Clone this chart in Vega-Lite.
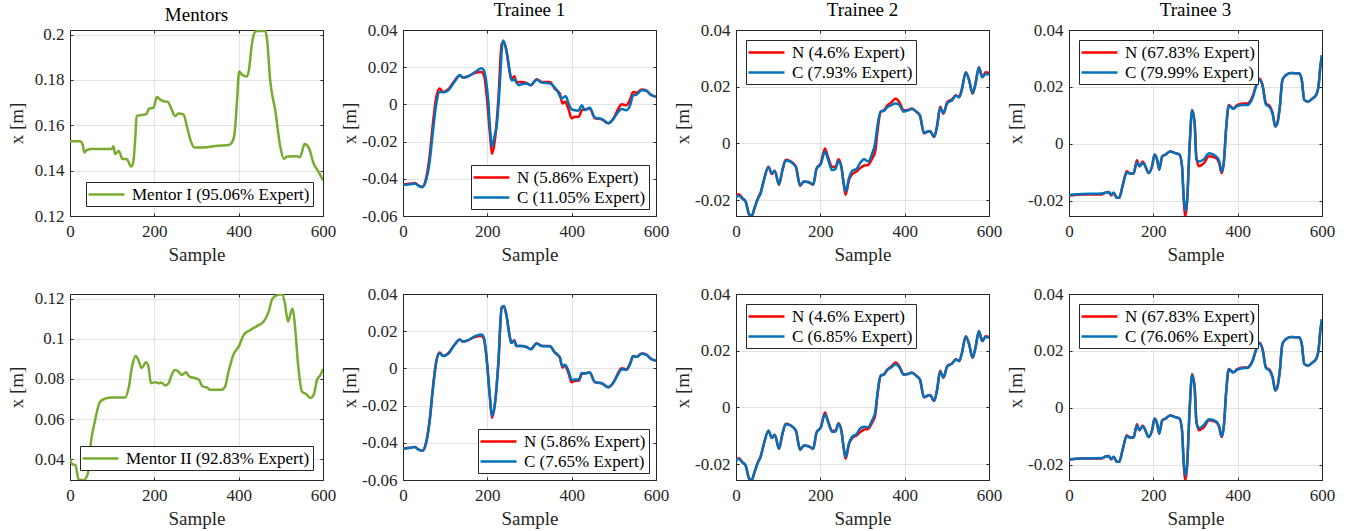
{
  "$schema": "https://vega.github.io/schema/vega-lite/v6.json",
  "padding": {"left": 6, "top": 0, "right": 5, "bottom": 5},
  "background": "white",
  "datasets": {
    "d": [
      {"p":"M1","s":"M1","t":0,"v":0.153},{"p":"M1","s":"M1","t":24,"v":0.153},{"p":"M1","s":"M1","t":30,"v":0.1515},{"p":"M1","s":"M1","t":34,"v":0.148},{"p":"M1","s":"M1","t":40,"v":0.149},{"p":"M1","s":"M1","t":50,"v":0.1495},{"p":"M1","s":"M1","t":99,"v":0.1495},{"p":"M1","s":"M1","t":103,"v":0.1507},{"p":"M1","s":"M1","t":107,"v":0.1473},{"p":"M1","s":"M1","t":116,"v":0.1487},{"p":"M1","s":"M1","t":124,"v":0.1452},{"p":"M1","s":"M1","t":135,"v":0.145},{"p":"M1","s":"M1","t":145,"v":0.1418},{"p":"M1","s":"M1","t":150,"v":0.1437},{"p":"M1","s":"M1","t":155,"v":0.155},{"p":"M1","s":"M1","t":158,"v":0.164},{"p":"M1","s":"M1","t":170,"v":0.1645},{"p":"M1","s":"M1","t":180,"v":0.1648},{"p":"M1","s":"M1","t":188,"v":0.1674},{"p":"M1","s":"M1","t":198,"v":0.1677},{"p":"M1","s":"M1","t":206,"v":0.1725},{"p":"M1","s":"M1","t":214,"v":0.1713},{"p":"M1","s":"M1","t":222,"v":0.1706},{"p":"M1","s":"M1","t":232,"v":0.1703},{"p":"M1","s":"M1","t":241,"v":0.167},{"p":"M1","s":"M1","t":249,"v":0.164},{"p":"M1","s":"M1","t":257,"v":0.1652},{"p":"M1","s":"M1","t":269,"v":0.1648},{"p":"M1","s":"M1","t":277,"v":0.1597},{"p":"M1","s":"M1","t":285,"v":0.1539},{"p":"M1","s":"M1","t":295,"v":0.1502},{"p":"M1","s":"M1","t":313,"v":0.1502},{"p":"M1","s":"M1","t":352,"v":0.151},{"p":"M1","s":"M1","t":376,"v":0.1513},{"p":"M1","s":"M1","t":384,"v":0.1524},{"p":"M1","s":"M1","t":390,"v":0.156},{"p":"M1","s":"M1","t":396,"v":0.1706},{"p":"M1","s":"M1","t":401,"v":0.1837},{"p":"M1","s":"M1","t":408,"v":0.1823},{"p":"M1","s":"M1","t":420,"v":0.1815},{"p":"M1","s":"M1","t":425,"v":0.1852},{"p":"M1","s":"M1","t":431,"v":0.1953},{"p":"M1","s":"M1","t":439,"v":0.2012},{"p":"M1","s":"M1","t":445,"v":0.2016},{"p":"M1","s":"M1","t":463,"v":0.2016},{"p":"M1","s":"M1","t":467,"v":0.1983},{"p":"M1","s":"M1","t":475,"v":0.1793},{"p":"M1","s":"M1","t":487,"v":0.1663},{"p":"M1","s":"M1","t":499,"v":0.1502},{"p":"M1","s":"M1","t":507,"v":0.1452},{"p":"M1","s":"M1","t":515,"v":0.1462},{"p":"M1","s":"M1","t":538,"v":0.1463},{"p":"M1","s":"M1","t":545,"v":0.1459},{"p":"M1","s":"M1","t":550,"v":0.1481},{"p":"M1","s":"M1","t":556,"v":0.1517},{"p":"M1","s":"M1","t":566,"v":0.1502},{"p":"M1","s":"M1","t":578,"v":0.143},{"p":"M1","s":"M1","t":590,"v":0.1393},{"p":"M1","s":"M1","t":600,"v":0.1357},

      {"p":"M2","s":"M2","t":0,"v":0.04},{"p":"M2","s":"M2","t":6,"v":0.0375},{"p":"M2","s":"M2","t":13,"v":0.0372},{"p":"M2","s":"M2","t":20,"v":0.0301},{"p":"M2","s":"M2","t":32,"v":0.0296},{"p":"M2","s":"M2","t":42,"v":0.0326},{"p":"M2","s":"M2","t":50,"v":0.0491},{"p":"M2","s":"M2","t":59,"v":0.059},{"p":"M2","s":"M2","t":71,"v":0.0685},{"p":"M2","s":"M2","t":83,"v":0.0702},{"p":"M2","s":"M2","t":99,"v":0.0708},{"p":"M2","s":"M2","t":131,"v":0.0708},{"p":"M2","s":"M2","t":139,"v":0.0755},{"p":"M2","s":"M2","t":148,"v":0.087},{"p":"M2","s":"M2","t":156,"v":0.0916},{"p":"M2","s":"M2","t":162,"v":0.0895},{"p":"M2","s":"M2","t":170,"v":0.0854},{"p":"M2","s":"M2","t":180,"v":0.0883},{"p":"M2","s":"M2","t":186,"v":0.0862},{"p":"M2","s":"M2","t":192,"v":0.0779},{"p":"M2","s":"M2","t":202,"v":0.0784},{"p":"M2","s":"M2","t":210,"v":0.0779},{"p":"M2","s":"M2","t":216,"v":0.0783},{"p":"M2","s":"M2","t":226,"v":0.0768},{"p":"M2","s":"M2","t":234,"v":0.0779},{"p":"M2","s":"M2","t":241,"v":0.082},{"p":"M2","s":"M2","t":249,"v":0.0845},{"p":"M2","s":"M2","t":257,"v":0.0837},{"p":"M2","s":"M2","t":265,"v":0.082},{"p":"M2","s":"M2","t":275,"v":0.0834},{"p":"M2","s":"M2","t":283,"v":0.0812},{"p":"M2","s":"M2","t":297,"v":0.0804},{"p":"M2","s":"M2","t":306,"v":0.0796},{"p":"M2","s":"M2","t":314,"v":0.0763},{"p":"M2","s":"M2","t":325,"v":0.0758},{"p":"M2","s":"M2","t":332,"v":0.0746},{"p":"M2","s":"M2","t":360,"v":0.0746},{"p":"M2","s":"M2","t":368,"v":0.0763},{"p":"M2","s":"M2","t":376,"v":0.0837},{"p":"M2","s":"M2","t":388,"v":0.0923},{"p":"M2","s":"M2","t":400,"v":0.0961},{"p":"M2","s":"M2","t":412,"v":0.1019},{"p":"M2","s":"M2","t":427,"v":0.1043},{"p":"M2","s":"M2","t":447,"v":0.1068},{"p":"M2","s":"M2","t":459,"v":0.1085},{"p":"M2","s":"M2","t":471,"v":0.1134},{"p":"M2","s":"M2","t":480,"v":0.12},{"p":"M2","s":"M2","t":491,"v":0.1217},{"p":"M2","s":"M2","t":503,"v":0.1222},{"p":"M2","s":"M2","t":509,"v":0.1184},{"p":"M2","s":"M2","t":517,"v":0.1085},{"p":"M2","s":"M2","t":522,"v":0.1118},{"p":"M2","s":"M2","t":528,"v":0.1151},{"p":"M2","s":"M2","t":533,"v":0.1076},{"p":"M2","s":"M2","t":541,"v":0.087},{"p":"M2","s":"M2","t":550,"v":0.0738},{"p":"M2","s":"M2","t":560,"v":0.0725},{"p":"M2","s":"M2","t":570,"v":0.0705},{"p":"M2","s":"M2","t":578,"v":0.0722},{"p":"M2","s":"M2","t":586,"v":0.0796},{"p":"M2","s":"M2","t":594,"v":0.082},{"p":"M2","s":"M2","t":600,"v":0.085},

      {"p":"T1","s":"N","t":0,"v":-0.0431},{"p":"T1","s":"N","t":16,"v":-0.0427},{"p":"T1","s":"N","t":28,"v":-0.0422},{"p":"T1","s":"N","t":37,"v":-0.0436},{"p":"T1","s":"N","t":46,"v":-0.0443},{"p":"T1","s":"N","t":55,"v":-0.0395},{"p":"T1","s":"N","t":63,"v":-0.028},{"p":"T1","s":"N","t":71,"v":-0.0102},{"p":"T1","s":"N","t":79,"v":0.0041},{"p":"T1","s":"N","t":87,"v":0.0085},{"p":"T1","s":"N","t":95,"v":0.0067},{"p":"T1","s":"N","t":107,"v":0.008},{"p":"T1","s":"N","t":123,"v":0.013},{"p":"T1","s":"N","t":135,"v":0.0156},{"p":"T1","s":"N","t":142,"v":0.0144},{"p":"T1","s":"N","t":154,"v":0.0151},{"p":"T1","s":"N","t":170,"v":0.0169},{"p":"T1","s":"N","t":186,"v":0.0174},{"p":"T1","s":"N","t":192,"v":0.0156},{"p":"T1","s":"N","t":198,"v":0.0058},{"p":"T1","s":"N","t":206,"v":-0.0155},{"p":"T1","s":"N","t":211,"v":-0.0266},{"p":"T1","s":"N","t":218,"v":-0.0191},{"p":"T1","s":"N","t":226,"v":0.0023},{"p":"T1","s":"N","t":234,"v":0.0325},{"p":"T1","s":"N","t":239,"v":0.0334},{"p":"T1","s":"N","t":245,"v":0.029},{"p":"T1","s":"N","t":253,"v":0.0174},{"p":"T1","s":"N","t":257,"v":0.0138},{"p":"T1","s":"N","t":264,"v":0.0151},{"p":"T1","s":"N","t":269,"v":0.0121},{"p":"T1","s":"N","t":281,"v":0.0121},{"p":"T1","s":"N","t":293,"v":0.0115},{"p":"T1","s":"N","t":303,"v":0.0103},{"p":"T1","s":"N","t":317,"v":0.0135},{"p":"T1","s":"N","t":329,"v":0.0121},{"p":"T1","s":"N","t":348,"v":0.0121},{"p":"T1","s":"N","t":360,"v":0.0085},{"p":"T1","s":"N","t":372,"v":0.0058},{"p":"T1","s":"N","t":378,"v":0.0005},{"p":"T1","s":"N","t":384,"v":0.0014},{"p":"T1","s":"N","t":392,"v":-0.0022},{"p":"T1","s":"N","t":400,"v":-0.0075},{"p":"T1","s":"N","t":408,"v":-0.0066},{"p":"T1","s":"N","t":417,"v":-0.0066},{"p":"T1","s":"N","t":424,"v":-0.0031},{"p":"T1","s":"N","t":431,"v":-0.0027},{"p":"T1","s":"N","t":443,"v":-0.0022},{"p":"T1","s":"N","t":455,"v":-0.0075},{"p":"T1","s":"N","t":471,"v":-0.008},{"p":"T1","s":"N","t":487,"v":-0.0102},{"p":"T1","s":"N","t":499,"v":-0.0075},{"p":"T1","s":"N","t":511,"v":-0.0022},{"p":"T1","s":"N","t":518,"v":0.0001},{"p":"T1","s":"N","t":530,"v":-0.0004},{"p":"T1","s":"N","t":538,"v":0.0023},{"p":"T1","s":"N","t":546,"v":0.0067},{"p":"T1","s":"N","t":554,"v":0.0062},{"p":"T1","s":"N","t":566,"v":0.008},{"p":"T1","s":"N","t":578,"v":0.0073},{"p":"T1","s":"N","t":586,"v":0.0055},{"p":"T1","s":"N","t":600,"v":0.0041},

      {"p":"T1","s":"C1","t":0,"v":-0.0433},{"p":"T1","s":"C1","t":16,"v":-0.043},{"p":"T1","s":"C1","t":28,"v":-0.0425},{"p":"T1","s":"C1","t":37,"v":-0.0438},{"p":"T1","s":"C1","t":46,"v":-0.0445},{"p":"T1","s":"C1","t":55,"v":-0.0405},{"p":"T1","s":"C1","t":63,"v":-0.031},{"p":"T1","s":"C1","t":71,"v":-0.0145},{"p":"T1","s":"C1","t":79,"v":0.0005},{"p":"T1","s":"C1","t":87,"v":0.0067},{"p":"T1","s":"C1","t":95,"v":0.0065},{"p":"T1","s":"C1","t":107,"v":0.0075},{"p":"T1","s":"C1","t":123,"v":0.0125},{"p":"T1","s":"C1","t":135,"v":0.0158},{"p":"T1","s":"C1","t":142,"v":0.0145},{"p":"T1","s":"C1","t":154,"v":0.015},{"p":"T1","s":"C1","t":170,"v":0.0172},{"p":"T1","s":"C1","t":186,"v":0.0195},{"p":"T1","s":"C1","t":192,"v":0.0183},{"p":"T1","s":"C1","t":198,"v":0.011},{"p":"T1","s":"C1","t":202,"v":0.0023},{"p":"T1","s":"C1","t":206,"v":-0.0115},{"p":"T1","s":"C1","t":211,"v":-0.0226},{"p":"T1","s":"C1","t":218,"v":-0.016},{"p":"T1","s":"C1","t":222,"v":-0.012},{"p":"T1","s":"C1","t":228,"v":0.005},{"p":"T1","s":"C1","t":237,"v":0.0343},{"p":"T1","s":"C1","t":245,"v":0.0295},{"p":"T1","s":"C1","t":253,"v":0.018},{"p":"T1","s":"C1","t":257,"v":0.013},{"p":"T1","s":"C1","t":265,"v":0.0133},{"p":"T1","s":"C1","t":269,"v":0.0118},{"p":"T1","s":"C1","t":275,"v":0.0103},{"p":"T1","s":"C1","t":281,"v":0.0108},{"p":"T1","s":"C1","t":293,"v":0.0112},{"p":"T1","s":"C1","t":303,"v":0.0103},{"p":"T1","s":"C1","t":317,"v":0.0132},{"p":"T1","s":"C1","t":329,"v":0.0118},{"p":"T1","s":"C1","t":348,"v":0.0113},{"p":"T1","s":"C1","t":360,"v":0.009},{"p":"T1","s":"C1","t":368,"v":0.0065},{"p":"T1","s":"C1","t":376,"v":0.0032},{"p":"T1","s":"C1","t":386,"v":0.0044},{"p":"T1","s":"C1","t":392,"v":0.0009},{"p":"T1","s":"C1","t":400,"v":-0.0027},{"p":"T1","s":"C1","t":408,"v":-0.0032},{"p":"T1","s":"C1","t":416,"v":-0.0034},{"p":"T1","s":"C1","t":424,"v":-0.0004},{"p":"T1","s":"C1","t":431,"v":-0.0031},{"p":"T1","s":"C1","t":443,"v":-0.0018},{"p":"T1","s":"C1","t":455,"v":-0.0071},{"p":"T1","s":"C1","t":471,"v":-0.0078},{"p":"T1","s":"C1","t":487,"v":-0.0102},{"p":"T1","s":"C1","t":499,"v":-0.0078},{"p":"T1","s":"C1","t":511,"v":-0.0039},{"p":"T1","s":"C1","t":518,"v":-0.0025},{"p":"T1","s":"C1","t":530,"v":-0.0031},{"p":"T1","s":"C1","t":538,"v":-0.0009},{"p":"T1","s":"C1","t":546,"v":0.0049},{"p":"T1","s":"C1","t":554,"v":0.0053},{"p":"T1","s":"C1","t":566,"v":0.0076},{"p":"T1","s":"C1","t":578,"v":0.0073},{"p":"T1","s":"C1","t":586,"v":0.0055},{"p":"T1","s":"C1","t":600,"v":0.0041},

      {"p":"T1","s":"C2","t":0,"v":-0.0432},{"p":"T1","s":"C2","t":16,"v":-0.0428},{"p":"T1","s":"C2","t":28,"v":-0.0423},{"p":"T1","s":"C2","t":37,"v":-0.0437},{"p":"T1","s":"C2","t":46,"v":-0.0443},{"p":"T1","s":"C2","t":55,"v":-0.04},{"p":"T1","s":"C2","t":63,"v":-0.029},{"p":"T1","s":"C2","t":71,"v":-0.011},{"p":"T1","s":"C2","t":79,"v":0.0035},{"p":"T1","s":"C2","t":87,"v":0.0082},{"p":"T1","s":"C2","t":95,"v":0.0067},{"p":"T1","s":"C2","t":107,"v":0.0079},{"p":"T1","s":"C2","t":123,"v":0.0129},{"p":"T1","s":"C2","t":135,"v":0.0156},{"p":"T1","s":"C2","t":142,"v":0.0144},{"p":"T1","s":"C2","t":154,"v":0.0151},{"p":"T1","s":"C2","t":170,"v":0.0172},{"p":"T1","s":"C2","t":186,"v":0.0182},{"p":"T1","s":"C2","t":192,"v":0.0165},{"p":"T1","s":"C2","t":198,"v":0.0065},{"p":"T1","s":"C2","t":206,"v":-0.015},{"p":"T1","s":"C2","t":211,"v":-0.0255},{"p":"T1","s":"C2","t":218,"v":-0.019},{"p":"T1","s":"C2","t":226,"v":0.0025},{"p":"T1","s":"C2","t":234,"v":0.0328},{"p":"T1","s":"C2","t":239,"v":0.0335},{"p":"T1","s":"C2","t":245,"v":0.029},{"p":"T1","s":"C2","t":253,"v":0.0172},{"p":"T1","s":"C2","t":257,"v":0.0137},{"p":"T1","s":"C2","t":264,"v":0.0149},{"p":"T1","s":"C2","t":269,"v":0.012},{"p":"T1","s":"C2","t":281,"v":0.012},{"p":"T1","s":"C2","t":293,"v":0.0115},{"p":"T1","s":"C2","t":303,"v":0.0103},{"p":"T1","s":"C2","t":317,"v":0.0134},{"p":"T1","s":"C2","t":329,"v":0.012},{"p":"T1","s":"C2","t":348,"v":0.0119},{"p":"T1","s":"C2","t":360,"v":0.0086},{"p":"T1","s":"C2","t":372,"v":0.006},{"p":"T1","s":"C2","t":378,"v":0.0012},{"p":"T1","s":"C2","t":384,"v":0.002},{"p":"T1","s":"C2","t":392,"v":-0.001},{"p":"T1","s":"C2","t":400,"v":-0.0062},{"p":"T1","s":"C2","t":408,"v":-0.006},{"p":"T1","s":"C2","t":417,"v":-0.006},{"p":"T1","s":"C2","t":424,"v":-0.0025},{"p":"T1","s":"C2","t":431,"v":-0.0027},{"p":"T1","s":"C2","t":443,"v":-0.0022},{"p":"T1","s":"C2","t":455,"v":-0.0074},{"p":"T1","s":"C2","t":471,"v":-0.008},{"p":"T1","s":"C2","t":487,"v":-0.0101},{"p":"T1","s":"C2","t":499,"v":-0.0076},{"p":"T1","s":"C2","t":511,"v":-0.0028},{"p":"T1","s":"C2","t":518,"v":-0.0005},{"p":"T1","s":"C2","t":530,"v":-0.0008},{"p":"T1","s":"C2","t":538,"v":0.002},{"p":"T1","s":"C2","t":546,"v":0.0065},{"p":"T1","s":"C2","t":554,"v":0.0061},{"p":"T1","s":"C2","t":566,"v":0.0079},{"p":"T1","s":"C2","t":578,"v":0.0073},{"p":"T1","s":"C2","t":586,"v":0.0055},{"p":"T1","s":"C2","t":600,"v":0.0041},

      {"p":"T2","s":"N","t":0,"v":-0.0185},{"p":"T2","s":"N","t":7,"v":-0.0179},{"p":"T2","s":"N","t":15,"v":-0.0193},{"p":"T2","s":"N","t":23,"v":-0.0205},{"p":"T2","s":"N","t":31,"v":-0.0251},{"p":"T2","s":"N","t":37,"v":-0.0257},{"p":"T2","s":"N","t":44,"v":-0.0228},{"p":"T2","s":"N","t":52,"v":-0.0193},{"p":"T2","s":"N","t":58,"v":-0.0175},{"p":"T2","s":"N","t":66,"v":-0.0129},{"p":"T2","s":"N","t":77,"v":-0.0082},{"p":"T2","s":"N","t":85,"v":-0.0108},{"p":"T2","s":"N","t":92,"v":-0.0096},{"p":"T2","s":"N","t":102,"v":-0.0146},{"p":"T2","s":"N","t":110,"v":-0.0094},{"p":"T2","s":"N","t":118,"v":-0.0058},{"p":"T2","s":"N","t":130,"v":-0.0064},{"p":"T2","s":"N","t":142,"v":-0.0082},{"p":"T2","s":"N","t":152,"v":-0.015},{"p":"T2","s":"N","t":161,"v":-0.0134},{"p":"T2","s":"N","t":173,"v":-0.0138},{"p":"T2","s":"N","t":183,"v":-0.0146},{"p":"T2","s":"N","t":191,"v":-0.0088},{"p":"T2","s":"N","t":201,"v":-0.007},{"p":"T2","s":"N","t":211,"v":-0.0018},{"p":"T2","s":"N","t":218,"v":-0.0047},{"p":"T2","s":"N","t":228,"v":-0.0082},{"p":"T2","s":"N","t":236,"v":-0.0082},{"p":"T2","s":"N","t":243,"v":-0.0056},{"p":"T2","s":"N","t":250,"v":-0.0082},{"p":"T2","s":"N","t":255,"v":-0.014},{"p":"T2","s":"N","t":260,"v":-0.0181},{"p":"T2","s":"N","t":268,"v":-0.0129},{"p":"T2","s":"N","t":276,"v":-0.0108},{"p":"T2","s":"N","t":286,"v":-0.0099},{"p":"T2","s":"N","t":294,"v":-0.0088},{"p":"T2","s":"N","t":304,"v":-0.0078},{"p":"T2","s":"N","t":313,"v":-0.0076},{"p":"T2","s":"N","t":323,"v":-0.0053},{"p":"T2","s":"N","t":330,"v":-0.0029},{"p":"T2","s":"N","t":335,"v":0.0035},{"p":"T2","s":"N","t":343,"v":0.0111},{"p":"T2","s":"N","t":351,"v":0.0117},{"p":"T2","s":"N","t":359,"v":0.0134},{"p":"T2","s":"N","t":367,"v":0.0143},{"p":"T2","s":"N","t":379,"v":0.0158},{"p":"T2","s":"N","t":387,"v":0.0146},{"p":"T2","s":"N","t":398,"v":0.0117},{"p":"T2","s":"N","t":410,"v":0.0119},{"p":"T2","s":"N","t":417,"v":0.0123},{"p":"T2","s":"N","t":428,"v":0.0111},{"p":"T2","s":"N","t":436,"v":0.0099},{"p":"T2","s":"N","t":446,"v":0.0035},{"p":"T2","s":"N","t":454,"v":0.0041},{"p":"T2","s":"N","t":460,"v":0.0044},{"p":"T2","s":"N","t":470,"v":0.0023},{"p":"T2","s":"N","t":477,"v":0.0064},{"p":"T2","s":"N","t":484,"v":0.0129},{"p":"T2","s":"N","t":492,"v":0.0105},{"p":"T2","s":"N","t":501,"v":0.0146},{"p":"T2","s":"N","t":513,"v":0.0156},{"p":"T2","s":"N","t":521,"v":0.017},{"p":"T2","s":"N","t":529,"v":0.0164},{"p":"T2","s":"N","t":535,"v":0.0187},{"p":"T2","s":"N","t":545,"v":0.0251},{"p":"T2","s":"N","t":553,"v":0.0222},{"p":"T2","s":"N","t":561,"v":0.0175},{"p":"T2","s":"N","t":568,"v":0.0211},{"p":"T2","s":"N","t":576,"v":0.0269},{"p":"T2","s":"N","t":584,"v":0.0234},{"p":"T2","s":"N","t":592,"v":0.0251},{"p":"T2","s":"N","t":600,"v":0.0248},

      {"p":"T2","s":"C1","t":0,"v":-0.019},{"p":"T2","s":"C1","t":7,"v":-0.0185},{"p":"T2","s":"C1","t":15,"v":-0.0195},{"p":"T2","s":"C1","t":23,"v":-0.0207},{"p":"T2","s":"C1","t":31,"v":-0.0249},{"p":"T2","s":"C1","t":37,"v":-0.0255},{"p":"T2","s":"C1","t":44,"v":-0.0228},{"p":"T2","s":"C1","t":52,"v":-0.0195},{"p":"T2","s":"C1","t":58,"v":-0.0178},{"p":"T2","s":"C1","t":66,"v":-0.0131},{"p":"T2","s":"C1","t":77,"v":-0.0083},{"p":"T2","s":"C1","t":85,"v":-0.0105},{"p":"T2","s":"C1","t":92,"v":-0.0098},{"p":"T2","s":"C1","t":102,"v":-0.0145},{"p":"T2","s":"C1","t":110,"v":-0.0095},{"p":"T2","s":"C1","t":118,"v":-0.006},{"p":"T2","s":"C1","t":130,"v":-0.0065},{"p":"T2","s":"C1","t":142,"v":-0.0083},{"p":"T2","s":"C1","t":152,"v":-0.0148},{"p":"T2","s":"C1","t":161,"v":-0.0134},{"p":"T2","s":"C1","t":173,"v":-0.0136},{"p":"T2","s":"C1","t":183,"v":-0.0145},{"p":"T2","s":"C1","t":191,"v":-0.009},{"p":"T2","s":"C1","t":201,"v":-0.0073},{"p":"T2","s":"C1","t":211,"v":-0.0029},{"p":"T2","s":"C1","t":218,"v":-0.0055},{"p":"T2","s":"C1","t":228,"v":-0.0094},{"p":"T2","s":"C1","t":236,"v":-0.009},{"p":"T2","s":"C1","t":243,"v":-0.0062},{"p":"T2","s":"C1","t":250,"v":-0.0085},{"p":"T2","s":"C1","t":255,"v":-0.0135},{"p":"T2","s":"C1","t":260,"v":-0.017},{"p":"T2","s":"C1","t":268,"v":-0.0122},{"p":"T2","s":"C1","t":276,"v":-0.0096},{"p":"T2","s":"C1","t":286,"v":-0.009},{"p":"T2","s":"C1","t":294,"v":-0.007},{"p":"T2","s":"C1","t":304,"v":-0.0056},{"p":"T2","s":"C1","t":313,"v":-0.0064},{"p":"T2","s":"C1","t":323,"v":-0.0035},{"p":"T2","s":"C1","t":330,"v":0.0},{"p":"T2","s":"C1","t":335,"v":0.0058},{"p":"T2","s":"C1","t":343,"v":0.0113},{"p":"T2","s":"C1","t":351,"v":0.0115},{"p":"T2","s":"C1","t":359,"v":0.0128},{"p":"T2","s":"C1","t":367,"v":0.0134},{"p":"T2","s":"C1","t":379,"v":0.0141},{"p":"T2","s":"C1","t":387,"v":0.0136},{"p":"T2","s":"C1","t":398,"v":0.0112},{"p":"T2","s":"C1","t":410,"v":0.0118},{"p":"T2","s":"C1","t":417,"v":0.0121},{"p":"T2","s":"C1","t":428,"v":0.0112},{"p":"T2","s":"C1","t":436,"v":0.0099},{"p":"T2","s":"C1","t":446,"v":0.0037},{"p":"T2","s":"C1","t":454,"v":0.0042},{"p":"T2","s":"C1","t":460,"v":0.0043},{"p":"T2","s":"C1","t":470,"v":0.0023},{"p":"T2","s":"C1","t":477,"v":0.006},{"p":"T2","s":"C1","t":484,"v":0.0125},{"p":"T2","s":"C1","t":492,"v":0.0107},{"p":"T2","s":"C1","t":501,"v":0.0142},{"p":"T2","s":"C1","t":513,"v":0.0153},{"p":"T2","s":"C1","t":521,"v":0.0168},{"p":"T2","s":"C1","t":529,"v":0.0163},{"p":"T2","s":"C1","t":535,"v":0.0186},{"p":"T2","s":"C1","t":545,"v":0.025},{"p":"T2","s":"C1","t":553,"v":0.0222},{"p":"T2","s":"C1","t":561,"v":0.0178},{"p":"T2","s":"C1","t":568,"v":0.0211},{"p":"T2","s":"C1","t":576,"v":0.0268},{"p":"T2","s":"C1","t":584,"v":0.0233},{"p":"T2","s":"C1","t":592,"v":0.0245},{"p":"T2","s":"C1","t":600,"v":0.0243},

      {"p":"T2","s":"C2","t":0,"v":-0.0187},{"p":"T2","s":"C2","t":7,"v":-0.0182},{"p":"T2","s":"C2","t":15,"v":-0.0194},{"p":"T2","s":"C2","t":23,"v":-0.0206},{"p":"T2","s":"C2","t":31,"v":-0.025},{"p":"T2","s":"C2","t":37,"v":-0.0256},{"p":"T2","s":"C2","t":44,"v":-0.0228},{"p":"T2","s":"C2","t":52,"v":-0.0194},{"p":"T2","s":"C2","t":58,"v":-0.0176},{"p":"T2","s":"C2","t":66,"v":-0.013},{"p":"T2","s":"C2","t":77,"v":-0.0082},{"p":"T2","s":"C2","t":85,"v":-0.0107},{"p":"T2","s":"C2","t":92,"v":-0.0097},{"p":"T2","s":"C2","t":102,"v":-0.0146},{"p":"T2","s":"C2","t":110,"v":-0.0094},{"p":"T2","s":"C2","t":118,"v":-0.0059},{"p":"T2","s":"C2","t":130,"v":-0.0064},{"p":"T2","s":"C2","t":142,"v":-0.0082},{"p":"T2","s":"C2","t":152,"v":-0.0149},{"p":"T2","s":"C2","t":161,"v":-0.0134},{"p":"T2","s":"C2","t":173,"v":-0.0137},{"p":"T2","s":"C2","t":183,"v":-0.0146},{"p":"T2","s":"C2","t":191,"v":-0.0089},{"p":"T2","s":"C2","t":201,"v":-0.0071},{"p":"T2","s":"C2","t":211,"v":-0.0025},{"p":"T2","s":"C2","t":218,"v":-0.005},{"p":"T2","s":"C2","t":228,"v":-0.0086},{"p":"T2","s":"C2","t":236,"v":-0.0085},{"p":"T2","s":"C2","t":243,"v":-0.0058},{"p":"T2","s":"C2","t":250,"v":-0.0083},{"p":"T2","s":"C2","t":255,"v":-0.0138},{"p":"T2","s":"C2","t":260,"v":-0.0175},{"p":"T2","s":"C2","t":268,"v":-0.0126},{"p":"T2","s":"C2","t":276,"v":-0.0103},{"p":"T2","s":"C2","t":286,"v":-0.0094},{"p":"T2","s":"C2","t":294,"v":-0.0075},{"p":"T2","s":"C2","t":304,"v":-0.0068},{"p":"T2","s":"C2","t":313,"v":-0.007},{"p":"T2","s":"C2","t":323,"v":-0.0045},{"p":"T2","s":"C2","t":330,"v":-0.0018},{"p":"T2","s":"C2","t":335,"v":0.0045},{"p":"T2","s":"C2","t":343,"v":0.0112},{"p":"T2","s":"C2","t":351,"v":0.0116},{"p":"T2","s":"C2","t":359,"v":0.0132},{"p":"T2","s":"C2","t":367,"v":0.014},{"p":"T2","s":"C2","t":379,"v":0.0152},{"p":"T2","s":"C2","t":387,"v":0.0142},{"p":"T2","s":"C2","t":398,"v":0.0115},{"p":"T2","s":"C2","t":410,"v":0.0119},{"p":"T2","s":"C2","t":417,"v":0.0122},{"p":"T2","s":"C2","t":428,"v":0.0111},{"p":"T2","s":"C2","t":436,"v":0.0099},{"p":"T2","s":"C2","t":446,"v":0.0036},{"p":"T2","s":"C2","t":454,"v":0.0041},{"p":"T2","s":"C2","t":460,"v":0.0044},{"p":"T2","s":"C2","t":470,"v":0.0023},{"p":"T2","s":"C2","t":477,"v":0.0062},{"p":"T2","s":"C2","t":484,"v":0.0127},{"p":"T2","s":"C2","t":492,"v":0.0106},{"p":"T2","s":"C2","t":501,"v":0.0144},{"p":"T2","s":"C2","t":513,"v":0.0155},{"p":"T2","s":"C2","t":521,"v":0.0169},{"p":"T2","s":"C2","t":529,"v":0.0163},{"p":"T2","s":"C2","t":535,"v":0.0187},{"p":"T2","s":"C2","t":545,"v":0.025},{"p":"T2","s":"C2","t":553,"v":0.0222},{"p":"T2","s":"C2","t":561,"v":0.0176},{"p":"T2","s":"C2","t":568,"v":0.0211},{"p":"T2","s":"C2","t":576,"v":0.0269},{"p":"T2","s":"C2","t":584,"v":0.0234},{"p":"T2","s":"C2","t":592,"v":0.0248},{"p":"T2","s":"C2","t":600,"v":0.0246},

      {"p":"T3","s":"N","t":0,"v":-0.0182},{"p":"T3","s":"N","t":30,"v":-0.0178},{"p":"T3","s":"N","t":78,"v":-0.0178},{"p":"T3","s":"N","t":86,"v":-0.0172},{"p":"T3","s":"N","t":94,"v":-0.017},{"p":"T3","s":"N","t":100,"v":-0.0182},{"p":"T3","s":"N","t":106,"v":-0.0172},{"p":"T3","s":"N","t":113,"v":-0.019},{"p":"T3","s":"N","t":119,"v":-0.019},{"p":"T3","s":"N","t":127,"v":-0.0149},{"p":"T3","s":"N","t":137,"v":-0.0097},{"p":"T3","s":"N","t":145,"v":-0.0105},{"p":"T3","s":"N","t":153,"v":-0.0105},{"p":"T3","s":"N","t":161,"v":-0.0058},{"p":"T3","s":"N","t":167,"v":-0.0079},{"p":"T3","s":"N","t":175,"v":-0.0062},{"p":"T3","s":"N","t":181,"v":-0.0079},{"p":"T3","s":"N","t":189,"v":-0.0103},{"p":"T3","s":"N","t":197,"v":-0.0079},{"p":"T3","s":"N","t":203,"v":-0.0038},{"p":"T3","s":"N","t":209,"v":-0.0056},{"p":"T3","s":"N","t":214,"v":-0.0091},{"p":"T3","s":"N","t":221,"v":-0.0044},{"p":"T3","s":"N","t":229,"v":-0.0038},{"p":"T3","s":"N","t":240,"v":-0.0027},{"p":"T3","s":"N","t":252,"v":-0.0033},{"p":"T3","s":"N","t":262,"v":-0.0038},{"p":"T3","s":"N","t":268,"v":-0.0079},{"p":"T3","s":"N","t":272,"v":-0.0196},{"p":"T3","s":"N","t":276,"v":-0.0254},{"p":"T3","s":"N","t":280,"v":-0.0207},{"p":"T3","s":"N","t":286,"v":-0.0009},{"p":"T3","s":"N","t":292,"v":0.0119},{"p":"T3","s":"N","t":298,"v":0.0072},{"p":"T3","s":"N","t":302,"v":-0.0044},{"p":"T3","s":"N","t":308,"v":-0.0079},{"p":"T3","s":"N","t":320,"v":-0.0068},{"p":"T3","s":"N","t":332,"v":-0.0044},{"p":"T3","s":"N","t":348,"v":-0.005},{"p":"T3","s":"N","t":356,"v":-0.0068},{"p":"T3","s":"N","t":362,"v":-0.0103},{"p":"T3","s":"N","t":367,"v":-0.0068},{"p":"T3","s":"N","t":373,"v":0.0061},{"p":"T3","s":"N","t":379,"v":0.0136},{"p":"T3","s":"N","t":389,"v":0.0125},{"p":"T3","s":"N","t":399,"v":0.0136},{"p":"T3","s":"N","t":411,"v":0.0142},{"p":"T3","s":"N","t":423,"v":0.0142},{"p":"T3","s":"N","t":435,"v":0.0165},{"p":"T3","s":"N","t":444,"v":0.0206},{"p":"T3","s":"N","t":452,"v":0.0229},{"p":"T3","s":"N","t":459,"v":0.0206},{"p":"T3","s":"N","t":467,"v":0.0142},{"p":"T3","s":"N","t":476,"v":0.0133},{"p":"T3","s":"N","t":483,"v":0.0107},{"p":"T3","s":"N","t":489,"v":0.0061},{"p":"T3","s":"N","t":494,"v":0.0072},{"p":"T3","s":"N","t":500,"v":0.013},{"p":"T3","s":"N","t":506,"v":0.0224},{"p":"T3","s":"N","t":514,"v":0.0241},{"p":"T3","s":"N","t":526,"v":0.0249},{"p":"T3","s":"N","t":546,"v":0.0247},{"p":"T3","s":"N","t":552,"v":0.0224},{"p":"T3","s":"N","t":558,"v":0.0154},{"p":"T3","s":"N","t":566,"v":0.0148},{"p":"T3","s":"N","t":578,"v":0.016},{"p":"T3","s":"N","t":586,"v":0.0171},{"p":"T3","s":"N","t":592,"v":0.0206},{"p":"T3","s":"N","t":596,"v":0.027},{"p":"T3","s":"N","t":600,"v":0.0311},

      {"p":"T3","s":"C1","t":0,"v":-0.018},{"p":"T3","s":"C1","t":30,"v":-0.0177},{"p":"T3","s":"C1","t":78,"v":-0.0175},{"p":"T3","s":"C1","t":86,"v":-0.0172},{"p":"T3","s":"C1","t":94,"v":-0.017},{"p":"T3","s":"C1","t":100,"v":-0.0178},{"p":"T3","s":"C1","t":106,"v":-0.0172},{"p":"T3","s":"C1","t":113,"v":-0.019},{"p":"T3","s":"C1","t":119,"v":-0.019},{"p":"T3","s":"C1","t":127,"v":-0.0149},{"p":"T3","s":"C1","t":137,"v":-0.0102},{"p":"T3","s":"C1","t":145,"v":-0.0105},{"p":"T3","s":"C1","t":153,"v":-0.0105},{"p":"T3","s":"C1","t":161,"v":-0.0065},{"p":"T3","s":"C1","t":167,"v":-0.0079},{"p":"T3","s":"C1","t":175,"v":-0.0068},{"p":"T3","s":"C1","t":181,"v":-0.0079},{"p":"T3","s":"C1","t":189,"v":-0.0103},{"p":"T3","s":"C1","t":197,"v":-0.0079},{"p":"T3","s":"C1","t":203,"v":-0.0038},{"p":"T3","s":"C1","t":209,"v":-0.0056},{"p":"T3","s":"C1","t":214,"v":-0.0091},{"p":"T3","s":"C1","t":221,"v":-0.0044},{"p":"T3","s":"C1","t":229,"v":-0.0038},{"p":"T3","s":"C1","t":240,"v":-0.0027},{"p":"T3","s":"C1","t":252,"v":-0.0033},{"p":"T3","s":"C1","t":262,"v":-0.0038},{"p":"T3","s":"C1","t":268,"v":-0.0079},{"p":"T3","s":"C1","t":272,"v":-0.0185},{"p":"T3","s":"C1","t":276,"v":-0.0236},{"p":"T3","s":"C1","t":280,"v":-0.02},{"p":"T3","s":"C1","t":286,"v":-0.0009},{"p":"T3","s":"C1","t":292,"v":0.0118},{"p":"T3","s":"C1","t":298,"v":0.0072},{"p":"T3","s":"C1","t":302,"v":-0.0055},{"p":"T3","s":"C1","t":308,"v":-0.0062},{"p":"T3","s":"C1","t":320,"v":-0.0054},{"p":"T3","s":"C1","t":332,"v":-0.0033},{"p":"T3","s":"C1","t":348,"v":-0.0044},{"p":"T3","s":"C1","t":356,"v":-0.006},{"p":"T3","s":"C1","t":362,"v":-0.0098},{"p":"T3","s":"C1","t":367,"v":-0.0068},{"p":"T3","s":"C1","t":373,"v":0.0061},{"p":"T3","s":"C1","t":379,"v":0.0134},{"p":"T3","s":"C1","t":389,"v":0.0123},{"p":"T3","s":"C1","t":399,"v":0.0132},{"p":"T3","s":"C1","t":411,"v":0.0136},{"p":"T3","s":"C1","t":423,"v":0.0136},{"p":"T3","s":"C1","t":435,"v":0.016},{"p":"T3","s":"C1","t":444,"v":0.0204},{"p":"T3","s":"C1","t":452,"v":0.0225},{"p":"T3","s":"C1","t":459,"v":0.0204},{"p":"T3","s":"C1","t":467,"v":0.0138},{"p":"T3","s":"C1","t":476,"v":0.0128},{"p":"T3","s":"C1","t":483,"v":0.0105},{"p":"T3","s":"C1","t":489,"v":0.0061},{"p":"T3","s":"C1","t":494,"v":0.0072},{"p":"T3","s":"C1","t":500,"v":0.013},{"p":"T3","s":"C1","t":506,"v":0.0224},{"p":"T3","s":"C1","t":514,"v":0.0241},{"p":"T3","s":"C1","t":526,"v":0.0249},{"p":"T3","s":"C1","t":546,"v":0.0247},{"p":"T3","s":"C1","t":552,"v":0.0224},{"p":"T3","s":"C1","t":558,"v":0.0154},{"p":"T3","s":"C1","t":566,"v":0.0148},{"p":"T3","s":"C1","t":578,"v":0.016},{"p":"T3","s":"C1","t":586,"v":0.0171},{"p":"T3","s":"C1","t":592,"v":0.0206},{"p":"T3","s":"C1","t":596,"v":0.027},{"p":"T3","s":"C1","t":600,"v":0.0311},

      {"p":"T3","s":"C2","t":0,"v":-0.0181},{"p":"T3","s":"C2","t":30,"v":-0.0178},{"p":"T3","s":"C2","t":78,"v":-0.0177},{"p":"T3","s":"C2","t":86,"v":-0.0172},{"p":"T3","s":"C2","t":94,"v":-0.017},{"p":"T3","s":"C2","t":100,"v":-0.018},{"p":"T3","s":"C2","t":106,"v":-0.0172},{"p":"T3","s":"C2","t":113,"v":-0.019},{"p":"T3","s":"C2","t":119,"v":-0.019},{"p":"T3","s":"C2","t":127,"v":-0.0149},{"p":"T3","s":"C2","t":137,"v":-0.01},{"p":"T3","s":"C2","t":145,"v":-0.0105},{"p":"T3","s":"C2","t":153,"v":-0.0105},{"p":"T3","s":"C2","t":161,"v":-0.0062},{"p":"T3","s":"C2","t":167,"v":-0.0079},{"p":"T3","s":"C2","t":175,"v":-0.0065},{"p":"T3","s":"C2","t":181,"v":-0.0079},{"p":"T3","s":"C2","t":189,"v":-0.0103},{"p":"T3","s":"C2","t":197,"v":-0.0079},{"p":"T3","s":"C2","t":203,"v":-0.0038},{"p":"T3","s":"C2","t":209,"v":-0.0056},{"p":"T3","s":"C2","t":214,"v":-0.0091},{"p":"T3","s":"C2","t":221,"v":-0.0044},{"p":"T3","s":"C2","t":229,"v":-0.0038},{"p":"T3","s":"C2","t":240,"v":-0.0027},{"p":"T3","s":"C2","t":252,"v":-0.0033},{"p":"T3","s":"C2","t":262,"v":-0.0038},{"p":"T3","s":"C2","t":268,"v":-0.0079},{"p":"T3","s":"C2","t":272,"v":-0.019},{"p":"T3","s":"C2","t":276,"v":-0.0238},{"p":"T3","s":"C2","t":280,"v":-0.0203},{"p":"T3","s":"C2","t":286,"v":-0.0009},{"p":"T3","s":"C2","t":292,"v":0.0115},{"p":"T3","s":"C2","t":298,"v":0.0072},{"p":"T3","s":"C2","t":302,"v":-0.005},{"p":"T3","s":"C2","t":308,"v":-0.0072},{"p":"T3","s":"C2","t":320,"v":-0.006},{"p":"T3","s":"C2","t":332,"v":-0.004},{"p":"T3","s":"C2","t":348,"v":-0.0047},{"p":"T3","s":"C2","t":356,"v":-0.0065},{"p":"T3","s":"C2","t":362,"v":-0.01},{"p":"T3","s":"C2","t":367,"v":-0.0068},{"p":"T3","s":"C2","t":373,"v":0.0061},{"p":"T3","s":"C2","t":379,"v":0.0135},{"p":"T3","s":"C2","t":389,"v":0.0124},{"p":"T3","s":"C2","t":399,"v":0.0134},{"p":"T3","s":"C2","t":411,"v":0.0139},{"p":"T3","s":"C2","t":423,"v":0.014},{"p":"T3","s":"C2","t":435,"v":0.0163},{"p":"T3","s":"C2","t":444,"v":0.0205},{"p":"T3","s":"C2","t":452,"v":0.0227},{"p":"T3","s":"C2","t":459,"v":0.0205},{"p":"T3","s":"C2","t":467,"v":0.014},{"p":"T3","s":"C2","t":476,"v":0.013},{"p":"T3","s":"C2","t":483,"v":0.0106},{"p":"T3","s":"C2","t":489,"v":0.0061},{"p":"T3","s":"C2","t":494,"v":0.0072},{"p":"T3","s":"C2","t":500,"v":0.013},{"p":"T3","s":"C2","t":506,"v":0.0224},{"p":"T3","s":"C2","t":514,"v":0.0241},{"p":"T3","s":"C2","t":526,"v":0.0249},{"p":"T3","s":"C2","t":546,"v":0.0247},{"p":"T3","s":"C2","t":552,"v":0.0224},{"p":"T3","s":"C2","t":558,"v":0.0154},{"p":"T3","s":"C2","t":566,"v":0.0148},{"p":"T3","s":"C2","t":578,"v":0.016},{"p":"T3","s":"C2","t":586,"v":0.0171},{"p":"T3","s":"C2","t":592,"v":0.0206},{"p":"T3","s":"C2","t":596,"v":0.027},{"p":"T3","s":"C2","t":600,"v":0.0311}
    ]
  },
  "columns": 4,
  "spacing": {"row": 78, "column": 80},
  "bounds": "flush",
  "resolve": {"scale": {"color": "independent", "x": "independent", "y": "independent"}, "legend": {"color": "independent"}},
  "concat": [
    {
      "title": "Mentors", "width": 253, "height": 186,
      "data": {"name": "d"},
      "transform": [{"filter": "datum.p == 'M1'"}],
      "layer": [
        {"mark": {"type": "line", "strokeWidth": 2.5, "clip": true, "interpolate": "monotone"},
         "encoding": {
          "x": {"field": "t", "type": "quantitative", "scale": {"domain": [0, 600], "nice": false}, "axis": {"values": [0, 200, 400, 600], "title": "Sample"}},
          "y": {"field": "v", "type": "quantitative", "scale": {"domain": [0.12, 0.202], "nice": false, "zero": false}, "axis": {"values": [0.12, 0.14, 0.16, 0.18, 0.2], "labelExpr": "toString(datum.value)", "title": "x [m]"}},
          "color": {"field": "s", "type": "nominal", "scale": {"domain": ["M1"], "range": ["#77ac30"]}, "legend": {"orient": "bottom-right", "offset": 10, "title": null, "labelExpr": "'Mentor I (95.06% Expert)'"}}
         }},
        {"mark": {"type": "line", "opacity": 0, "clip": true},
         "encoding": {
          "x": {"field": "t", "type": "quantitative", "scale": {"domain": [0, 600], "nice": false}, "axis": {"orient": "top", "values": [0, 200, 400, 600], "labels": false, "grid": false, "title": null}},
          "y": {"field": "v", "type": "quantitative", "scale": {"domain": [0.12, 0.202], "nice": false, "zero": false}, "axis": {"orient": "right", "values": [0.12, 0.14, 0.16, 0.18, 0.2], "labels": false, "grid": false, "title": null}}
         }}
      ],
      "resolve": {"axis": {"x": "independent", "y": "independent"}}
    },
    {
      "title": "Trainee 1", "width": 253, "height": 186,
      "data": {"name": "d"},
      "transform": [{"filter": "datum.p == 'T1' && datum.s != 'C2'"}],
      "layer": [
        {"mark": {"type": "line", "strokeWidth": 2.5, "clip": true, "interpolate": "monotone"},
         "encoding": {
          "x": {"field": "t", "type": "quantitative", "scale": {"domain": [0, 600], "nice": false}, "axis": {"values": [0, 200, 400, 600], "title": "Sample"}},
          "y": {"field": "v", "type": "quantitative", "scale": {"domain": [-0.06, 0.04], "nice": false, "zero": false}, "axis": {"values": [-0.06, -0.04, -0.02, 0, 0.02, 0.04], "labelExpr": "toString(datum.value)", "title": "x [m]"}},
          "color": {"field": "s", "type": "nominal", "scale": {"domain": ["N", "C1"], "range": ["#ff0000", "#0072bd"]}, "legend": {"orient": "bottom-right", "offset": 7, "title": null, "labelExpr": "datum.label == 'N' ? 'N (5.86% Expert)' : 'C (11.05% Expert)'"}}
         }},
        {"mark": {"type": "line", "opacity": 0, "clip": true},
         "encoding": {
          "x": {"field": "t", "type": "quantitative", "scale": {"domain": [0, 600], "nice": false}, "axis": {"orient": "top", "values": [0, 200, 400, 600], "labels": false, "grid": false, "title": null}},
          "y": {"field": "v", "type": "quantitative", "scale": {"domain": [-0.06, 0.04], "nice": false, "zero": false}, "axis": {"orient": "right", "values": [-0.06, -0.04, -0.02, 0, 0.02, 0.04], "labels": false, "grid": false, "title": null}}
         }}
      ],
      "resolve": {"axis": {"x": "independent", "y": "independent"}}
    },
    {
      "title": "Trainee 2", "width": 253, "height": 186,
      "data": {"name": "d"},
      "transform": [{"filter": "datum.p == 'T2' && datum.s != 'C2'"}],
      "layer": [
        {"mark": {"type": "line", "strokeWidth": 2.5, "clip": true, "interpolate": "monotone"},
         "encoding": {
          "x": {"field": "t", "type": "quantitative", "scale": {"domain": [0, 600], "nice": false}, "axis": {"values": [0, 200, 400, 600], "title": "Sample"}},
          "y": {"field": "v", "type": "quantitative", "scale": {"domain": [-0.0256, 0.04], "nice": false, "zero": false}, "axis": {"values": [-0.02, 0, 0.02, 0.04], "labelExpr": "toString(datum.value)", "title": "x [m]"}},
          "color": {"field": "s", "type": "nominal", "scale": {"domain": ["N", "C1"], "range": ["#ff0000", "#0072bd"]}, "legend": {"orient": "top-left", "offset": 10, "title": null, "labelExpr": "datum.label == 'N' ? 'N (4.6% Expert)' : 'C (7.93% Expert)'"}}
         }},
        {"mark": {"type": "line", "opacity": 0, "clip": true},
         "encoding": {
          "x": {"field": "t", "type": "quantitative", "scale": {"domain": [0, 600], "nice": false}, "axis": {"orient": "top", "values": [0, 200, 400, 600], "labels": false, "grid": false, "title": null}},
          "y": {"field": "v", "type": "quantitative", "scale": {"domain": [-0.0256, 0.04], "nice": false, "zero": false}, "axis": {"orient": "right", "values": [-0.02, 0, 0.02, 0.04], "labels": false, "grid": false, "title": null}}
         }}
      ],
      "resolve": {"axis": {"x": "independent", "y": "independent"}}
    },
    {
      "title": "Trainee 3", "width": 253, "height": 186,
      "data": {"name": "d"},
      "transform": [{"filter": "datum.p == 'T3' && datum.s != 'C2'"}],
      "layer": [
        {"mark": {"type": "line", "strokeWidth": 2.5, "clip": true, "interpolate": "monotone"},
         "encoding": {
          "x": {"field": "t", "type": "quantitative", "scale": {"domain": [0, 600], "nice": false}, "axis": {"values": [0, 200, 400, 600], "title": "Sample"}},
          "y": {"field": "v", "type": "quantitative", "scale": {"domain": [-0.0254, 0.04], "nice": false, "zero": false}, "axis": {"values": [-0.02, 0, 0.02, 0.04], "labelExpr": "toString(datum.value)", "title": "x [m]"}},
          "color": {"field": "s", "type": "nominal", "scale": {"domain": ["N", "C1"], "range": ["#ff0000", "#0072bd"]}, "legend": {"orient": "top-left", "offset": 10, "title": null, "labelExpr": "datum.label == 'N' ? 'N (67.83% Expert)' : 'C (79.99% Expert)'"}}
         }},
        {"mark": {"type": "line", "opacity": 0, "clip": true},
         "encoding": {
          "x": {"field": "t", "type": "quantitative", "scale": {"domain": [0, 600], "nice": false}, "axis": {"orient": "top", "values": [0, 200, 400, 600], "labels": false, "grid": false, "title": null}},
          "y": {"field": "v", "type": "quantitative", "scale": {"domain": [-0.0254, 0.04], "nice": false, "zero": false}, "axis": {"orient": "right", "values": [-0.02, 0, 0.02, 0.04], "labels": false, "grid": false, "title": null}}
         }}
      ],
      "resolve": {"axis": {"x": "independent", "y": "independent"}}
    },
    {
      "width": 253, "height": 186,
      "data": {"name": "d"},
      "transform": [{"filter": "datum.p == 'M2'"}],
      "layer": [
        {"mark": {"type": "line", "strokeWidth": 2.5, "clip": true, "interpolate": "monotone"},
         "encoding": {
          "x": {"field": "t", "type": "quantitative", "scale": {"domain": [0, 600], "nice": false}, "axis": {"values": [0, 200, 400, 600], "title": "Sample"}},
          "y": {"field": "v", "type": "quantitative", "scale": {"domain": [0.0297, 0.1223], "nice": false, "zero": false}, "axis": {"values": [0.04, 0.06, 0.08, 0.1, 0.12], "labelExpr": "toString(datum.value)", "title": "x [m]"}},
          "color": {"field": "s", "type": "nominal", "scale": {"domain": ["M2"], "range": ["#77ac30"]}, "legend": {"orient": "bottom-right", "offset": 10, "title": null, "labelExpr": "'Mentor II (92.83% Expert)'"}}
         }},
        {"mark": {"type": "line", "opacity": 0, "clip": true},
         "encoding": {
          "x": {"field": "t", "type": "quantitative", "scale": {"domain": [0, 600], "nice": false}, "axis": {"orient": "top", "values": [0, 200, 400, 600], "labels": false, "grid": false, "title": null}},
          "y": {"field": "v", "type": "quantitative", "scale": {"domain": [0.0297, 0.1223], "nice": false, "zero": false}, "axis": {"orient": "right", "values": [0.04, 0.06, 0.08, 0.1, 0.12], "labels": false, "grid": false, "title": null}}
         }}
      ],
      "resolve": {"axis": {"x": "independent", "y": "independent"}}
    },
    {
      "width": 253, "height": 186,
      "data": {"name": "d"},
      "transform": [{"filter": "datum.p == 'T1' && datum.s != 'C1'"}],
      "layer": [
        {"mark": {"type": "line", "strokeWidth": 2.5, "clip": true, "interpolate": "monotone"},
         "encoding": {
          "x": {"field": "t", "type": "quantitative", "scale": {"domain": [0, 600], "nice": false}, "axis": {"values": [0, 200, 400, 600], "title": "Sample"}},
          "y": {"field": "v", "type": "quantitative", "scale": {"domain": [-0.06, 0.04], "nice": false, "zero": false}, "axis": {"values": [-0.06, -0.04, -0.02, 0, 0.02, 0.04], "labelExpr": "toString(datum.value)", "title": "x [m]"}},
          "color": {"field": "s", "type": "nominal", "scale": {"domain": ["N", "C2"], "range": ["#ff0000", "#0072bd"]}, "legend": {"orient": "bottom-right", "offset": 7, "title": null, "labelExpr": "datum.label == 'N' ? 'N (5.86% Expert)' : 'C (7.65% Expert)'"}}
         }},
        {"mark": {"type": "line", "opacity": 0, "clip": true},
         "encoding": {
          "x": {"field": "t", "type": "quantitative", "scale": {"domain": [0, 600], "nice": false}, "axis": {"orient": "top", "values": [0, 200, 400, 600], "labels": false, "grid": false, "title": null}},
          "y": {"field": "v", "type": "quantitative", "scale": {"domain": [-0.06, 0.04], "nice": false, "zero": false}, "axis": {"orient": "right", "values": [-0.06, -0.04, -0.02, 0, 0.02, 0.04], "labels": false, "grid": false, "title": null}}
         }}
      ],
      "resolve": {"axis": {"x": "independent", "y": "independent"}}
    },
    {
      "width": 253, "height": 186,
      "data": {"name": "d"},
      "transform": [{"filter": "datum.p == 'T2' && datum.s != 'C1'"}],
      "layer": [
        {"mark": {"type": "line", "strokeWidth": 2.5, "clip": true, "interpolate": "monotone"},
         "encoding": {
          "x": {"field": "t", "type": "quantitative", "scale": {"domain": [0, 600], "nice": false}, "axis": {"values": [0, 200, 400, 600], "title": "Sample"}},
          "y": {"field": "v", "type": "quantitative", "scale": {"domain": [-0.0256, 0.04], "nice": false, "zero": false}, "axis": {"values": [-0.02, 0, 0.02, 0.04], "labelExpr": "toString(datum.value)", "title": "x [m]"}},
          "color": {"field": "s", "type": "nominal", "scale": {"domain": ["N", "C2"], "range": ["#ff0000", "#0072bd"]}, "legend": {"orient": "top-left", "offset": 10, "title": null, "labelExpr": "datum.label == 'N' ? 'N (4.6% Expert)' : 'C (6.85% Expert)'"}}
         }},
        {"mark": {"type": "line", "opacity": 0, "clip": true},
         "encoding": {
          "x": {"field": "t", "type": "quantitative", "scale": {"domain": [0, 600], "nice": false}, "axis": {"orient": "top", "values": [0, 200, 400, 600], "labels": false, "grid": false, "title": null}},
          "y": {"field": "v", "type": "quantitative", "scale": {"domain": [-0.0256, 0.04], "nice": false, "zero": false}, "axis": {"orient": "right", "values": [-0.02, 0, 0.02, 0.04], "labels": false, "grid": false, "title": null}}
         }}
      ],
      "resolve": {"axis": {"x": "independent", "y": "independent"}}
    },
    {
      "width": 253, "height": 186,
      "data": {"name": "d"},
      "transform": [{"filter": "datum.p == 'T3' && datum.s != 'C1'"}],
      "layer": [
        {"mark": {"type": "line", "strokeWidth": 2.5, "clip": true, "interpolate": "monotone"},
         "encoding": {
          "x": {"field": "t", "type": "quantitative", "scale": {"domain": [0, 600], "nice": false}, "axis": {"values": [0, 200, 400, 600], "title": "Sample"}},
          "y": {"field": "v", "type": "quantitative", "scale": {"domain": [-0.0254, 0.04], "nice": false, "zero": false}, "axis": {"values": [-0.02, 0, 0.02, 0.04], "labelExpr": "toString(datum.value)", "title": "x [m]"}},
          "color": {"field": "s", "type": "nominal", "scale": {"domain": ["N", "C2"], "range": ["#ff0000", "#0072bd"]}, "legend": {"orient": "top-left", "offset": 10, "title": null, "labelExpr": "datum.label == 'N' ? 'N (67.83% Expert)' : 'C (76.06% Expert)'"}}
         }},
        {"mark": {"type": "line", "opacity": 0, "clip": true},
         "encoding": {
          "x": {"field": "t", "type": "quantitative", "scale": {"domain": [0, 600], "nice": false}, "axis": {"orient": "top", "values": [0, 200, 400, 600], "labels": false, "grid": false, "title": null}},
          "y": {"field": "v", "type": "quantitative", "scale": {"domain": [-0.0254, 0.04], "nice": false, "zero": false}, "axis": {"orient": "right", "values": [-0.02, 0, 0.02, 0.04], "labels": false, "grid": false, "title": null}}
         }}
      ],
      "resolve": {"axis": {"x": "independent", "y": "independent"}}
    }
  ],
  "config": {
    "font": "Liberation Serif",
    "view": {"stroke": "#262626", "strokeWidth": 1},
    "axis": {
      "labelFont": "Liberation Serif", "labelFontSize": 17, "labelColor": "#262626",
      "titleFont": "Liberation Serif", "titleFontSize": 19, "titleFontWeight": "normal", "titleColor": "#262626",
      "grid": true, "gridColor": "#e3e3e3", "gridWidth": 1,
      "domain": true, "domainColor": "#262626", "domainWidth": 1,
      "ticks": true, "tickSize": -3, "tickColor": "#262626",
      "labelFlush": false, "labelOverlap": false
    },
    "axisX": {"labelPadding": 10, "titleY": 44, "titleBaseline": "alphabetic"},
    "axisY": {"labelPadding": 9, "titleX": -48, "titleBaseline": "alphabetic"},
    "title": {"font": "Liberation Serif", "fontSize": 19, "fontWeight": "normal", "color": "#000000", "baseline": "alphabetic", "offset": 1},
    "legend": {
      "padding": 3, "fillColor": "#ffffff", "strokeColor": "#262626",
      "labelFont": "Liberation Serif", "labelFontSize": 17, "labelColor": "#000000", "labelLimit": 400,
      "symbolType": "M-2.25,0H2.25", "symbolSize": 256, "symbolStrokeWidth": 2.5, "symbolOffset": 8, "labelOffset": 16,
      "rowPadding": 2
    }
  }
}
